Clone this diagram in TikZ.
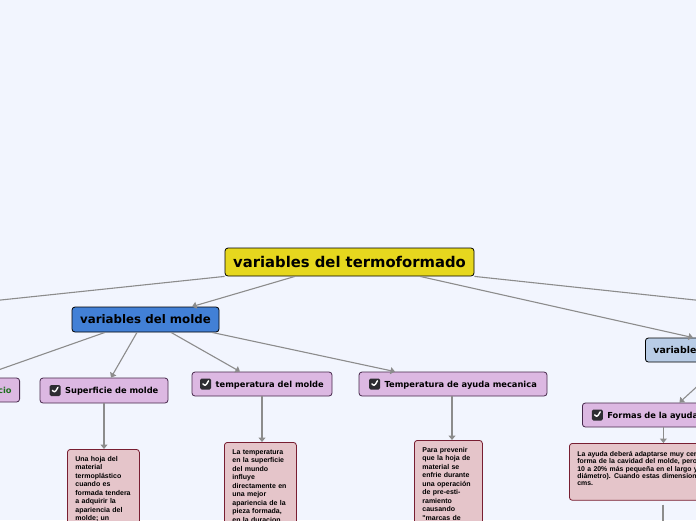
\documentclass[tikz,border=0pt]{standalone}
\usepackage{fontspec}
\usetikzlibrary{arrows.meta}
\newfontfamily\djv{DejaVu Sans}
\newfontfamily\lib{Liberation Sans}
\definecolor{bg}{RGB}{242,245,254}
\definecolor{rootyel}{RGB}{230,215,30}
\definecolor{moldeblue}{RGB}{66,128,214}
\definecolor{varblue}{RGB}{184,204,230}
\definecolor{purpfill}{RGB}{220,184,226}
\definecolor{purpbd}{RGB}{70,40,75}
\definecolor{pinkfill}{RGB}{229,197,202}
\definecolor{pinkbd}{RGB}{120,30,50}
\definecolor{linegray}{RGB}{140,140,140}
\definecolor{ciogreen}{RGB}{30,110,30}
\definecolor{iconbg}{RGB}{45,45,50}
\newcommand{\chkicon}{\tikz[baseline=-3pt,x=1pt,y=1pt]{\fill[iconbg,rounded corners=1.5pt] (0,-5.5) rectangle (11,5.5); \draw[white,line width=1.4pt,line cap=round,line join=round] (2.8,0.2) -- (4.8,-2.8) -- (8.3,3.2);}\hspace{4.5pt}}

\begin{document}
\begin{tikzpicture}[x=1pt,y=-1pt,
    topic/.style = {draw, line width=.8pt, rounded corners=3pt, inner sep=0pt},
    branch/.style = {draw=purpbd, fill=purpfill, line width=.8pt, rounded corners=3pt, minimum height=24pt, inner sep=0pt, font=\djv\bfseries\fontsize{8.3}{10}\selectfont},
    leaf/.style = {draw=pinkbd, fill=pinkfill, line width=.8pt, rounded corners=3pt, anchor=north west, align=left, inner xsep=8pt, inner ysep=7pt, font=\lib\bfseries\fontsize{7}{8.5}\selectfont},
    conn/.style = {draw=linegray, line width=1.1pt, -{Triangle[width=7pt,length=4.5pt]}}]
    \useasboundingbox (0,0) rectangle (696,520);
    \clip (0,0) rectangle (696,520);
    \fill[bg] (0,0) rectangle (696,520);

    \node[topic, fill=rootyel, minimum width=249pt, minimum height=28pt, font=\djv\bfseries\fontsize{14.8}{17}\selectfont] (root) at (349.5,262) {variables del termoformado};
    \node[topic, fill=moldeblue, minimum width=147pt, minimum height=25pt, font=\djv\bfseries\fontsize{11.8}{14}\selectfont] (molde) at (145.5,319.5) {variables del molde};
    \node[topic, fill=varblue, anchor=west, minimum height=24pt, text width=140pt, inner xsep=8pt, align=left, font=\djv\bfseries\fontsize{9.4}{11}\selectfont] (varr) at (645,350) {variables};

    \node[branch, anchor=east, text width=60pt, inner xsep=8pt, align=right, text=ciogreen] (cio) at (20,390) {cio};
    \node[branch, minimum width=128pt, minimum height=25pt] (sup) at (104,390.5) {\chkicon Superficie de molde};
    \node[branch, minimum width=140pt] (tmol) at (262,384) {\chkicon temperatura del molde};
    \node[branch, minimum width=188pt] (tayu) at (453,384) {\chkicon Temperatura de ayuda mecanica};
    \node[branch, anchor=west, text width=190pt, inner xsep=9.5pt, align=left] (form) at (582,415) {\chkicon Formas de la ayuda mecanica};

    \node[leaf, text width=56pt] (b1) at (67,449) {Una hoja del\\ material\\ termoplástico\\ cuando es\\ formada tendera\\ a adquirir la\\ apariencia del\\ molde; un};
    \node[leaf, text width=56pt] (b2) at (224,442) {La temperatura\\ en la superficie\\ del mundo\\ influye\\ directamente en\\ una mejor\\ apariencia de la\\ pieza formada,\\ en la duracion};
    \node[leaf, text width=52pt] (b3) at (414,440) {Para prevenir\\ que la hoja de\\ material se\\ enfrie durante\\ una operación\\ de pre-esti-\\ ramiento\\ causando\\ "marcas de};
    \node[leaf, text width=190pt, inner ysep=8pt, font=\lib\bfseries\fontsize{6.9}{6.4}\selectfont] (b4) at (569,443) {La ayuda deberá adaptarse muy cer\\ forma de la cavidad del molde, pero\\ 10 a 20\% más pequeña en el largo y\\ diámetro). Cuando estas dimensione\\ cms.\rule[-7pt]{0pt}{7pt}};

    \coordinate (offl) at (-40,304.3);
    \coordinate (offr) at (740,304.8);
    \coordinate (b4out) at (663,560);

    \draw[conn] (root.south west) -- (offl);
    \draw[conn] (root.south east) -- (offr);
    \draw[conn] ([xshift=-54.5pt]root.south) -- ([xshift=46.5pt]molde.north);
    \draw[conn] ([xshift=70.5pt]root.south) -- ([xshift=48pt]varr.north west);
    \draw[conn] ([xshift=-40.5pt]molde.south) -- ([xshift=-5pt]cio.north);
    \draw[conn] ([xshift=-8.5pt]molde.south) -- ([xshift=7pt]sup.north);
    \draw[conn] ([xshift=25.5pt]molde.south) -- ([xshift=-22pt]tmol.north);
    \draw[conn] ([xshift=66.5pt]molde.south) -- ([xshift=-58pt]tayu.north);
    \draw[conn] (sup.south) -- (sup.south |- b1.north);
    \draw[conn] (tmol.south) -- (tmol.south |- b2.north);
    \draw[conn] ([xshift=-1pt]tayu.south) -- ([xshift=-1pt]tayu.south |- b3.north);
    \draw[conn] (varr.south) -- ([xshift=-7.5pt]form.north);
    \draw[conn] ([xshift=-23.5pt]form.south) -- ([xshift=-23.5pt]form.south |- b4.north);
    \draw[conn] ([yshift=-4pt]b4.south -| b4out) -- (b4out);
\end{tikzpicture}
\end{document}
